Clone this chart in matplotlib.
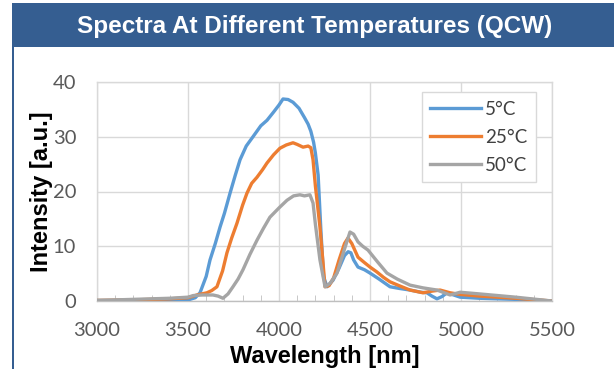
import matplotlib
matplotlib.use("Agg")
import matplotlib.pyplot as plt
from matplotlib.patches import Rectangle
from matplotlib.ticker import MultipleLocator

# ---- data ----
wl_5 = [3000, 3200, 3400, 3500, 3540, 3566, 3600, 3621, 3650, 3676, 3700, 3731, 3760, 3786,
        3820, 3857, 3900, 3934, 3970, 4000, 4022, 4050, 4077, 4110, 4140, 4160, 4175, 4190,
        4200, 4215, 4230, 4245, 4264, 4297, 4330, 4360, 4380, 4395, 4410, 4434, 4470, 4500,
        4550, 4610, 4660, 4720, 4780, 4813, 4840, 4868, 4895, 4923, 4960, 4995, 5100, 5300, 5500]
int_5 = [0.1, 0.1, 0.1, 0.2, 0.6, 1.5, 4.5, 7.5, 10.5, 13.5, 16, 19.7, 23, 25.8,
         28.3, 30, 32, 33, 34.5, 35.8, 36.9, 36.8, 36.3, 35.2, 33.5, 32.3, 31, 29,
         27, 23, 13, 4.4, 2.6, 3.8, 6, 8.3, 9.0, 8.8, 7.5, 6.2, 5.7, 5.1,
         4.0, 2.6, 2.3, 2.0, 1.6, 1.5, 0.9, 0.4, 0.8, 1.5, 1.1, 0.7, 0.5, 0.3, 0.0]

wl_25 = [3000, 3200, 3400, 3500, 3549, 3604, 3630, 3659, 3690, 3714, 3740, 3769, 3800, 3824,
         3850, 3879, 3910, 3934, 3970, 4005, 4040, 4077, 4100, 4132, 4160, 4175, 4187, 4200,
         4225, 4253, 4275, 4300, 4330, 4360, 4379, 4400, 4434, 4470, 4500, 4538, 4575, 4610,
         4660, 4720, 4791, 4840, 4885, 4940, 4995, 5100, 5300, 5500]
int_25 = [0.1, 0.2, 0.4, 0.6, 1.1, 1.5, 1.9, 2.6, 5.5, 8.8, 11.5, 14.2, 17.5, 19.7,
          21.5, 22.6, 24, 25.2, 26.7, 27.9, 28.5, 28.9, 28.6, 28.1, 28.3, 28.0, 25.8, 21,
          13.5, 2.6, 2.8, 4.2, 7.5, 10.5, 11.5, 10.5, 8.0, 7.0, 6.2, 5.3, 4.3, 3.5,
          2.8, 2.0, 1.5, 1.8, 2.0, 1.5, 1.2, 0.9, 0.5, 0.0]

wl_50 = [3000, 3200, 3400, 3500, 3530, 3580, 3637, 3665, 3692, 3720, 3747, 3775, 3802, 3840,
         3879, 3915, 3950, 4000, 4044, 4080, 4115, 4140, 4170, 4187, 4200, 4225, 4253, 4280,
         4319, 4360, 4390, 4410, 4434, 4460, 4489, 4540, 4593, 4650, 4720, 4791, 4868, 4940,
         4995, 5100, 5300, 5500]
int_50 = [0.1, 0.3, 0.5, 0.7, 1.0, 1.1, 1.1, 0.9, 0.5, 1.3, 2.6, 4.0, 5.7, 8.5,
          11.1, 13.3, 15.3, 17.0, 18.4, 19.2, 19.4, 19.2, 19.4, 17.9, 14, 7.5, 2.6, 3.2,
          5.1, 9.5, 12.6, 12.2, 10.8, 10.0, 9.3, 7.2, 5.1, 4.0, 2.9, 2.4, 2.0, 1.1,
          1.6, 1.3, 0.7, 0.0]

labels = ["5°C", "25°C", "50°C"]
x_ticks = [3000, 3500, 4000, 4500, 5000, 5500]
y_ticks = [0, 10, 20, 30, 40]
title = "Spectra At Different Temperatures (QCW)"
xlabel = "Wavelength [nm]"
ylabel = "Intensity [a.u.]"

colors = ["#5B9BD5", "#ED7D31", "#A5A5A5"]
header_color = "#355E91"

W, H = 614, 369
fig = plt.figure(figsize=(W / 100, H / 100), dpi=100)
fig.patch.set_facecolor("white")

# header band and left border
fig.patches.append(Rectangle((12 / W, 1 - 47 / H), 1 - 12 / W, 44 / H,
                             transform=fig.transFigure, facecolor=header_color,
                             edgecolor="none", zorder=0))
fig.patches.append(Rectangle((12 / W, 0), 2 / W, 1 - 47 / H,
                             transform=fig.transFigure, facecolor=header_color,
                             edgecolor="none", zorder=0))
fig.text(314.5 / W, 1 - 26 / H, title, color="white", fontsize=17.5,
         fontweight="bold", family="Liberation Sans", ha="center", va="center")

ax = fig.add_axes([97 / W, 1 - 301 / H, (552 - 97) / W, (301 - 82) / H])

series = [(wl_5, int_5), (wl_25, int_25), (wl_50, int_50)]
for (x, y), c, lab in zip(series, colors, labels):
    ax.plot(x, y, color=c, lw=2.4, label=lab, solid_joinstyle="round", zorder=3)

ax.set_xlim(3000, 5500)
ax.set_ylim(0, 40)
ax.set_xticks(x_ticks)
ax.set_yticks(y_ticks)
ax.xaxis.set_minor_locator(MultipleLocator(100))
ax.grid(True, which="major", color="#D9D9D9", lw=1.0, zorder=0)
for s in ax.spines.values():
    s.set_color("#D9D9D9")
    s.set_linewidth(1.0)
ax.spines["bottom"].set_color("#BFBFBF")
ax.tick_params(axis="both", which="major", length=0, labelsize=14.5,
               labelcolor="#595959")
ax.tick_params(axis="x", which="major", pad=15)
ax.tick_params(axis="y", which="major", pad=15)
ax.tick_params(axis="x", which="minor", direction="in", length=4, color="#BFBFBF")
for lab in ax.get_xticklabels() + ax.get_yticklabels():
    lab.set_family("Lato")

ax.set_xlabel(xlabel, fontsize=17, fontweight="bold", family="Liberation Sans")
ax.xaxis.set_label_coords(0.5, -44 / 219)
ax.set_ylabel(ylabel, fontsize=17, fontweight="bold", family="Liberation Sans", labelpad=0)

leg = ax.legend(loc="upper right", bbox_to_anchor=(0.965, 0.954), frameon=True,
                fancybox=False, edgecolor="#D9D9D9", framealpha=1,
                prop={"family": "Lato", "size": 13.5}, handlelength=2.7,
                handletextpad=0.25, labelspacing=0.6, borderpad=0.45, borderaxespad=0)
for t in leg.get_texts():
    t.set_color("#404040")
leg.get_frame().set_linewidth(1.0)

fig.savefig("out.png", dpi=100)
